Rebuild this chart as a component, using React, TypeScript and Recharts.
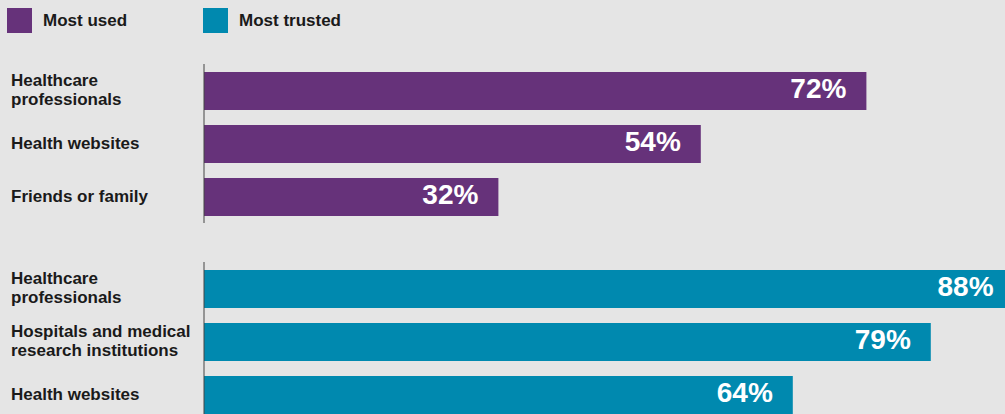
import React from 'react';
import { BarChart, Bar, XAxis, YAxis, LabelList } from 'recharts';

const usedCategories = ['Healthcare professionals', 'Health websites', 'Friends or family'];
const usedValues = [72, 54, 32];
const trustedCategories = ['Healthcare professionals', 'Hospitals and medical research institutions', 'Health websites'];
const trustedValues = [88, 79, 64];
const legendLabels = ['Most used', 'Most trusted'];

const PURPLE = '#66327a';
const TEAL = '#0089af';
const FONT = '"Liberation Sans", Arial, sans-serif';
const TICK_FONT = `bold 17px ${FONT}`;
const LINE_H = 19;
const MAX_W = 186;

let measureCtx: CanvasRenderingContext2D | null = null;
const measure = (s: string) => {
  if (!measureCtx) {
    measureCtx = document.createElement('canvas').getContext('2d');
  }
  if (!measureCtx) return s.length * 9;
  measureCtx.font = TICK_FONT;
  return measureCtx.measureText(s).width;
};

const wrap = (label: string) => {
  const lines: string[] = [];
  let cur = '';
  label.split(' ').forEach(w => {
    const next = cur ? `${cur} ${w}` : w;
    if (cur && measure(next) > MAX_W) {
      lines.push(cur);
      cur = w;
    } else {
      cur = next;
    }
  });
  if (cur) lines.push(cur);
  return lines;
};

const CategoryTick = (props: any) => {
  const { y, payload } = props;
  const lines = wrap(String(payload.value));
  // baseline of the first line so the block is centred on the band
  const first = y + 5 - ((lines.length - 1) * LINE_H) / 2;
  return (
    <text x={11} y={first} fill="#1a1a1a" style={{ font: TICK_FONT }} textAnchor="start">
      {lines.map((l, i) => (
        <tspan key={i} x={11} y={first + i * LINE_H}>{l}</tspan>
      ))}
    </text>
  );
};

const GroupChart = ({ categories, values, color, top }: { categories: string[]; values: number[]; color: string; top: number }) => {
  const data = categories.map((name, i) => ({ name, value: values[i] }));
  return (
    <div style={{ position: 'absolute', left: 0, top }}>
      <BarChart width={1124} height={159} data={data} layout="vertical" margin={{ top: 0, right: 0, bottom: 0, left: 0 }}>
        <XAxis type="number" domain={[0, 100]} hide />
        <YAxis
          type="category"
          dataKey="name"
          width={204}
          axisLine={{ stroke: '#444', strokeWidth: 1 }}
          tickLine={false}
          tick={<CategoryTick />}
          interval={0}
        />
        <Bar dataKey="value" fill={color} barSize={38} isAnimationActive={false}>
          <LabelList
            dataKey="value"
            position="insideRight"
            offset={20}
            dy={-3}
            formatter={(v: any) => `${v}%`}
            fill="#ffffff"
            fontSize={28}
            fontWeight="bold"
            fontFamily={FONT}
          />
        </Bar>
      </BarChart>
    </div>
  );
};

export default function App() {
  const legendColors = [PURPLE, TEAL];
  const legendX = [7, 203];
  return (
    <div
      style={{
        position: 'fixed',
        left: 0,
        top: 0,
        width: 1005,
        height: 414,
        overflow: 'hidden',
        background: '#e5e5e5',
        fontFamily: FONT,
      }}
    >
      {legendLabels.map((label, i) => (
        <div
          key={label}
          style={{ position: 'absolute', left: legendX[i], top: 8, display: 'flex', alignItems: 'center', height: 25 }}
        >
          <div style={{ width: 25, height: 25, background: legendColors[i] }} />
          <span style={{ marginLeft: 11, fontSize: 17, fontWeight: 'bold', color: '#1a1a1a' }}>{label}</span>
        </div>
      ))}
      <GroupChart categories={usedCategories} values={usedValues} color={PURPLE} top={64} />
      <GroupChart categories={trustedCategories} values={trustedValues} color={TEAL} top={262} />
    </div>
  );
}
